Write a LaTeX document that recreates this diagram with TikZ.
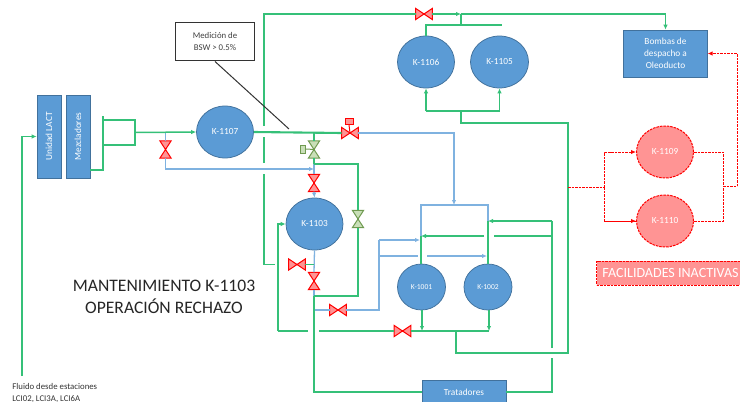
\documentclass[tikz,border=0pt]{standalone}
\usepackage{fontspec}
\setmainfont{Carlito}
\usetikzlibrary{arrows.meta,shapes.geometric}
\definecolor{linegreen}{HTML}{35C078}
\definecolor{lineblue}{HTML}{7FB2E0}
\definecolor{boxblue}{HTML}{5B9BD5}
\definecolor{boxedge}{HTML}{41719C}
\definecolor{redfill}{HTML}{FF9494}
\definecolor{greenfill}{HTML}{C9DFB8}
\definecolor{greenedge}{HTML}{6F9A50}
\tikzset{
  >={Latex[length=1.0mm,width=0.9mm]},
  gline/.style={draw=linegreen, line width=0.3mm},
  bline/.style={draw=lineblue, line width=0.26mm},
  rline/.style={draw=red, dash pattern=on 0.5mm off 0.2mm, line width=0.2mm},
  tank/.style={ellipse, draw=boxedge, fill=boxblue, line width=0.15mm, inner sep=0pt, text=white, font=\fontsize{5.3}{6}\selectfont},
  offtank/.style={ellipse, draw=red, dash pattern=on 0.5mm off 0.2mm, fill=redfill, line width=0.2mm, inner sep=0pt, text=white, font=\fontsize{5.3}{6}\selectfont},
  unitbox/.style={rectangle, draw=boxedge, fill=boxblue, line width=0.15mm, inner sep=0pt, text=white, align=center, font=\fontsize{5.3}{6.9}\selectfont},
  valvebox/.style={rectangle, inner sep=0pt, minimum width=0.32cm, minimum height=0.21cm},
  valveup/.style={rectangle, inner sep=0pt, minimum width=0.21cm, minimum height=0.33cm},
  redvalve/.style={draw=red, fill=redfill, line width=0.2mm},
  greenvalve/.style={draw=greenedge, fill=greenfill, line width=0.2mm},
}
% bowtie valves
\newcommand{\valveh}[3]{%
  \node[valvebox] (#1) at (#2) {};
  \path[#3] (#1.north west) -- (#1.south east) -- (#1.north east) -- (#1.south west) -- cycle;
}
\newcommand{\valvev}[3]{%
  \node[valveup] (#1) at (#2) {};
  \path[#3] (#1.north west) -- (#1.north east) -- (#1.south west) -- (#1.south east) -- cycle;
}
\begin{document}
\begin{tikzpicture}[x=0.02cm, y=-0.02cm]
  \useasboundingbox (0,0) rectangle (740,402);

  % equipment
  \node[unitbox, minimum width=1.66cm, minimum height=0.48cm, rotate=90] (lact) at (49,136.5) {Unidad LACT};
  \node[unitbox, minimum width=1.66cm, minimum height=0.48cm, rotate=90] (mezcla) at (78,136.5) {Mezcladores};
  \node[tank, minimum width=1.14cm, minimum height=1.04cm] (k1107) at (225,132) {K-1107};
  \node[tank, minimum width=1.14cm, minimum height=1.04cm] (k1106) at (426,62) {K-1106};
  \node[tank, minimum width=1.16cm, minimum height=1.04cm] (k1105) at (499.5,62) {K-1105};
  \node[tank, minimum width=1.14cm, minimum height=1.04cm] (k1103) at (314.5,224) {K-1103};
  \node[tank, minimum width=0.96cm, minimum height=0.92cm, font=\fontsize{4.3}{5}\selectfont] (k1001) at (421.5,287) {K-1001};
  \node[tank, minimum width=0.96cm, minimum height=0.92cm, font=\fontsize{4.3}{5}\selectfont] (k1002) at (488,287) {K-1002};
  \node[offtank, minimum width=1.14cm, minimum height=1.04cm] (k1109) at (665,152) {K-1109};
  \node[offtank, minimum width=1.14cm, minimum height=1.04cm] (k1110) at (665,221) {K-1110};
  \node[unitbox, minimum width=1.67cm, minimum height=0.94cm] (bombas) at (665.5,53.5) {Bombas de\\despacho a\\Oleoducto};
  \node[unitbox, minimum width=1.68cm, minimum height=0.48cm] (tratadores) at (464,392) {Tratadores};
  \node[draw=black!80, fill=white, line width=0.2mm, minimum width=1.6cm, minimum height=0.78cm, inner sep=0pt, align=center, font=\fontsize{5}{6.6}\selectfont, text=black!75] (bsw) at (215,41.5) {Medición de\\BSW > 0.5\%};
  \node[rectangle, draw=red, dash pattern=on 0.5mm off 0.2mm, fill=redfill, line width=0.2mm, minimum height=0.48cm, minimum width=3.02cm, inner sep=0pt, anchor=west, text=white] (inactivas) at (596,273) {};
  \node[anchor=west, inner sep=0pt, text=white, font=\fontsize{8}{9}\selectfont] (inactivastxt) at (602,273) {FACILIDADES INACTIVAS};

  % valves
  \valvev{vbypass}{165.5,149.5}{redvalve}
  \valveh{vtop}{424,14}{redvalve}
  \valveh{vmain}{350,133}{redvalve}
  \valvev{vgreena}{314,149.5}{greenvalve}
  \valvev{vinlet}{314,183}{redvalve}
  \valvev{vgreenb}{358,219}{greenvalve}
  \valveh{vreturn}{297,264.5}{redvalve}
  \valvev{vlow}{314,281}{redvalve}
  \valveh{vblue}{338,310}{redvalve}
  \valveh{vfeed}{402.5,331}{redvalve}
  \node[rectangle, draw=red, fill=redfill, line width=0.15mm, minimum width=0.16cm, minimum height=0.12cm, inner sep=0pt] (actred) at (349,121.5) {};
  \node[rectangle, draw=greenedge, fill=greenfill, line width=0.15mm, minimum width=0.11cm, minimum height=0.16cm, inner sep=0pt] (actgreen) at (303,149) {};
  \draw[draw=red, line width=0.2mm] (actred.south) -- (vmain.center);
  \draw[draw=greenedge, line width=0.2mm] (actgreen.east) -- (vgreena.center);

  % junctions
  \coordinate (inlet) at (22,376);
  \coordinate (mezout) at (mezcla.south |- 0,170);
  \coordinate (hdrtop) at (103,116);
  \coordinate (hdrlow) at (103,170);
  \coordinate (hdra) at (103,120);
  \coordinate (hdrb) at (103,145);
  \coordinate (hdrc) at (135,132.5);
  \coordinate (bypass) at (165.5,132.5);
  \coordinate (bswend) at (289,129);
  \coordinate (split) at (314,133);
  \coordinate (linkin) at (314,169);
  \coordinate (linkgreen) at (314,164);
  \coordinate (upa) at (264,126);
  \coordinate (upb) at (264,137);
  \coordinate (upc) at (264,163);
  \coordinate (upd) at (264,174);
  \coordinate (upe) at (275,264.5);
  \coordinate (retin) at (314,264.5);
  \coordinate (lowa) at (314,296);
  \coordinate (lowb) at (314,310);
  \coordinate (topend) at (461,14);
  \coordinate (topmid) at (461,25);
  \coordinate (topr) at (502,25);
  \coordinate (midl) at (426,111);
  \coordinate (midr) at (499.5,111);
  \coordinate (midc) at (461,111);
  \coordinate (ringr) at (568,123);
  \coordinate (ringb) at (568,353);
  \coordinate (ringc) at (456,331);
  \coordinate (lefta) at (278,331);
  \coordinate (leftb) at (308,331);
  \coordinate (leftc) at (319,331);
  \coordinate (botl) at (422,331);
  \coordinate (botr) at (489,331);
  \coordinate (blupa) at (379,240);
  \coordinate (blupb) at (379,256);
  \coordinate (blupc) at (418,256);
  \coordinate (blupd) at (427,256);
  \coordinate (blupe) at (487,256);
  \coordinate (bluein) at (420,240);
  \coordinate (feedtop) at (454,205);
  \coordinate (boxr) at (488,205);
  \coordinate (boxla) at (421,236);
  \coordinate (boxra) at (488,221);
  \coordinate (backa) at (552,221);
  \coordinate (backb) at (552,236);
  \coordinate (backc) at (494,236);
  \coordinate (backd) at (484,236);
  \coordinate (backe) at (552,348);
  \coordinate (backf) at (552,358);
  \coordinate (reda) at (568,187);
  \coordinate (redb) at (604.5,187);
  \coordinate (redc) at (723,186);
  \coordinate (redd) at (737,186);

  % blue lines
  \draw[bline] (bypass) -- (vbypass.north);
  \draw[bline, ->] (vbypass.south) |- (linkin);
  \draw[bline] (linkgreen) -- (vinlet.north);
  \draw[bline, ->] (vinlet.south) -- (k1103.north);
  \draw[bline, ->] (vmain.east) -| (feedtop);
  \draw[bline] (boxla) |- (boxr) -- (boxra);
  \draw[bline] (k1103.south) -- (vlow.north);
  \draw[bline] (vlow.south) -- (lowa);
  \draw[bline] (lowb) -- (vblue.west);
  \draw[bline] (vblue.east) -| (blupa);
  \draw[bline, ->] (blupa) -- (bluein);
  \draw[bline] (blupb) -- (blupc);
  \draw[bline, ->] (blupd) -- (blupe);

  % green lines
  \draw[gline, ->] (inlet) |- (lact.north);
  \draw[gline] (mezout) -- (hdrlow) -- (hdrtop);
  \draw[gline] (hdra) -| (hdrc) |- (hdrb);
  \draw[gline, ->] (hdrc) -- (k1107.west);
  \draw[gline, line width=0.42mm] (k1107.east) -- (vmain.west);
  \draw[gline] (split) -- (vgreena.north);
  \draw[gline] (vgreena.south) -- (linkgreen);
  \draw[gline] (linkgreen) -| (vgreenb.north);
  \draw[gline] (vgreenb.south) |- (lowa);
  \draw[gline] (upa) |- (vtop.west);
  \draw[gline] (upb) -- (upc);
  \draw[gline] (upd) |- (upe);
  \draw[gline] (vreturn.east) -- (retin);
  \draw[gline, ->] (vtop.east) -- (topend);
  \draw[gline, ->] (topend) -| (bombas.north);
  \draw[gline] (topend) -- (topmid);
  \draw[gline] (k1106.north) |- (topmid) -| (topr);
  \draw[gline, ->] (midl) -- (k1106.south);
  \draw[gline, ->] (midr) -- (k1105.south);
  \draw[gline] (midl) -- (midr);
  \draw[gline] (midc) |- (ringr) -- (ringb) -| (ringc);
  \draw[gline, line width=0.36mm] (lowa) |- (tratadores.west);
  \draw[gline, ->] (lefta) |- (k1103.west);
  \draw[gline] (lefta) -- (leftb);
  \draw[gline] (leftc) -- (vfeed.west);
  \draw[gline] (vfeed.east) -- (botr);
  \draw[gline, ->] (k1001.south -| botl) -- (botl);
  \draw[gline, ->] (k1002.south -| botr) -- (botr);
  \draw[gline] (boxla) -- (k1001.north -| boxla);
  \draw[gline] (boxra) -- (k1002.north);
  \draw[gline, ->] (backa) -- (boxra);
  \draw[gline] (backa) -- (backe);
  \draw[gline] (backb) -- (backc);
  \draw[gline, ->] (backd) -- (boxla);
  \draw[gline] (tratadores.east) -| (backf);

  % inactive lines
  \draw[rline] (reda) -- (redb);
  \draw[rline] (k1110.west) -| (redb);
  \draw[rline, ->] (redb) |- (k1109.west);
  \draw[rline, ->] (redb |- k1110.west) -- (k1110.west);
  \draw[rline] (k1109.east) -| (redc);
  \draw[rline] (k1110.east) -| (redc);
  \draw[rline] (redc) -- (redd);
  \draw[rline, ->] (redd) |- (bombas.east);

  \draw[draw=black!80, line width=0.2mm] (bsw.south) -- (bswend);

  % labels
  \node[align=center, inner sep=0pt, font=\fontsize{10}{12.4}\selectfont, text=black!85] (titulo) at (164,296.5) {MANTENIMIENTO K-1103\\OPERACIÓN RECHAZO};
  \node[anchor=north west, align=left, inner sep=0pt, font=\fontsize{5}{6.8}\selectfont, text=black!80] (fluido) at (12,383) {Fluido desde estaciones\\LCI02, LCI3A, LCI6A};
\end{tikzpicture}
\end{document}
